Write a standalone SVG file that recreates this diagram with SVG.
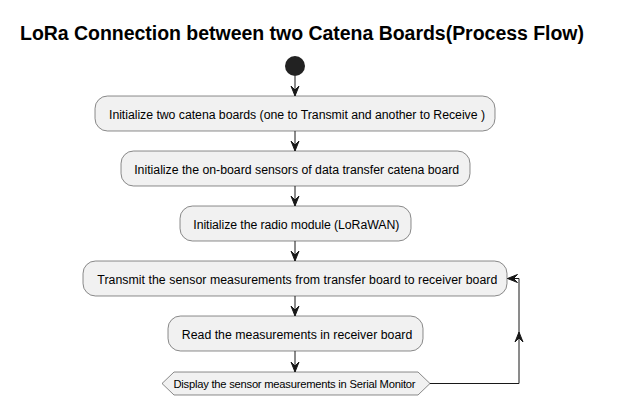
<svg xmlns="http://www.w3.org/2000/svg" width="617" height="406" viewBox="0 0 617 406">
<style>
.title{font-family:"Liberation Sans",Arial,sans-serif;font-size:19.5px;font-weight:bold;fill:#000}
.act rect,.act polygon{fill:#F1F1F1;stroke:#181818;stroke-width:0.5}
.lbl{font-family:"Liberation Sans",Arial,sans-serif;font-size:12.3px;fill:#000;text-anchor:middle}
.lbl2{font-family:"Liberation Sans",Arial,sans-serif;font-size:11.2px;fill:#000;text-anchor:middle}
.edge{fill:none;stroke:#181818;stroke-width:1}
.head{fill:#181818;stroke:#181818;stroke-width:1}
</style>
<rect width="617" height="406" fill="#FFFFFF"/>
<text class="title" x="302" y="40" text-anchor="middle" textLength="564">LoRa Connection between two Catena Boards(Process Flow)</text>
<g id="start"><circle cx="295" cy="66" r="10" fill="#222222"/></g>
<g id="n1" class="act"><rect x="95" y="96" width="400" height="35" rx="12.5" ry="12.5"/><text class="lbl" x="297" y="118.5" textLength="376">Initialize two catena boards (one to Transmit and another to Receive )</text></g>
<g id="n2" class="act"><rect x="121" y="151" width="349" height="35" rx="12.5" ry="12.5"/><text class="lbl" x="296.7" y="173.5" textLength="325">Initialize the on-board sensors of data transfer catena board</text></g>
<g id="n3" class="act"><rect x="180" y="206" width="231" height="35" rx="12.5" ry="12.5"/><text class="lbl" x="296.3" y="228.5" textLength="206">Initialize the radio module (LoRaWAN)</text></g>
<g id="n4" class="act"><rect x="83" y="261" width="424" height="35" rx="12.5" ry="12.5"/><text class="lbl" x="297.3" y="283.5" textLength="400">Transmit the sensor measurements from transfer board to receiver board</text></g>
<g id="n5" class="act"><rect x="168" y="316" width="255" height="35" rx="12.5" ry="12.5"/><text class="lbl" x="297" y="338.5" textLength="230.5">Read the measurements in receiver board</text></g>
<g id="n6" class="act"><polygon points="162,383.5 174,372 418,372 430,383.5 418,395 174,395"/><text class="lbl2" x="294.5" y="387.5" textLength="242">Display the sensor measurements in Serial Monitor</text></g>
<g id="connectors">
<line class="edge" x1="295" y1="76" x2="295" y2="96"/>
<polygon class="head" points="291,86 295,96 299,86 295,90"/>
<line class="edge" x1="295" y1="131" x2="295" y2="151"/>
<polygon class="head" points="291,141 295,151 299,141 295,145"/>
<line class="edge" x1="295" y1="186" x2="295" y2="206"/>
<polygon class="head" points="291,196 295,206 299,196 295,200"/>
<line class="edge" x1="295" y1="241" x2="295" y2="261"/>
<polygon class="head" points="291,251 295,261 299,251 295,255"/>
<line class="edge" x1="295" y1="296" x2="295" y2="316"/>
<polygon class="head" points="291,306 295,316 299,306 295,310"/>
<line class="edge" x1="295" y1="351" x2="295" y2="372"/>
<polygon class="head" points="291,362 295,372 299,362 295,366"/>
<polyline class="edge" points="430,383.5 519,383.5 519,278.5 507.5,278.5"/>
<polygon class="head" points="515,342 519,332 523,342 519,338"/>
<polygon class="head" points="517.5,274.5 507.5,278.5 517.5,282.5 513.5,278.5"/>
</g>
</svg>
